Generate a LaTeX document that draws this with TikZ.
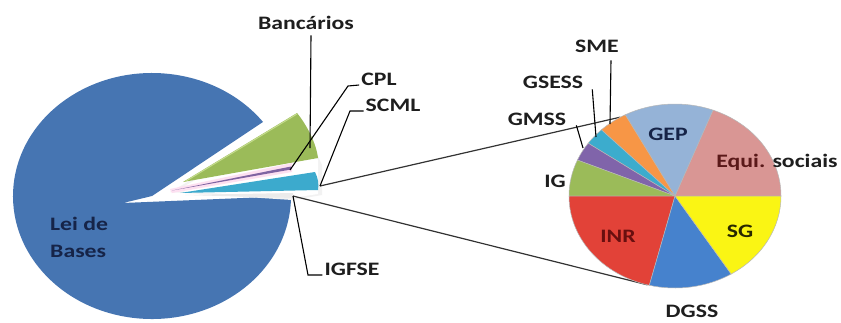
\documentclass[tikz,border=0pt]{standalone}
\usepackage{fontspec}
\setmainfont{Carlito}
\usepackage{graphicx}

% slice colours
\definecolor{bigblue}{RGB}{70,117,178}
\definecolor{bancgreen}{RGB}{155,187,89}
\definecolor{bancedge}{RGB}{196,220,140}
\definecolor{cplpurple}{RGB}{128,100,162}
\definecolor{scmlcyan}{RGB}{60,170,205}
\definecolor{equipink}{RGB}{217,150,148}
\definecolor{gepblue}{RGB}{149,179,215}
\definecolor{smeorange}{RGB}{247,150,70}
\definecolor{gsesscyan}{RGB}{60,172,205}
\definecolor{gmsspurple}{RGB}{128,100,170}
\definecolor{iggreen}{RGB}{155,187,89}
\definecolor{inrred}{RGB}{226,66,56}
\definecolor{dgssblue}{RGB}{70,130,205}
\definecolor{sgyellow}{RGB}{250,245,20}
% text colours
\definecolor{labelink}{RGB}{30,30,30}
\definecolor{navyink}{RGB}{22,36,72}
\definecolor{redink}{RGB}{105,15,15}
\definecolor{maroonink}{RGB}{90,25,25}
\definecolor{olivink}{RGB}{40,40,0}

\newcommand\wtxt[1]{\scalebox{1.25}[1]{#1}}

\begin{document}
\begin{tikzpicture}[x=1pt,y=-1pt,
  lbl/.style={inner sep=0pt, anchor=base, text=labelink,
              font=\bfseries\fontsize{19}{22}\selectfont},
  leader/.style={draw=black, line width=1.1pt},
  link/.style={draw=black!80, line width=1.2pt},
  rslice/.style={draw=white!72!black, line width=0.5pt}]

\useasboundingbox (0,0) rectangle (841,322);
\fill[white] (0,0) rectangle (841,322);

% ---------- main pie ----------
\coordinate (lc) at (152,196);
\fill[bigblue] (lc) -- ({152+139*cos(37)},{196-123*sin(37)})
   arc[start angle=37, end angle=360, x radius=139pt, y radius=123pt]
   -- (123,203) -- cycle;

% exploded slices
\fill[black!5] (170,192) -- (300,118) -- (322,165) -- (322,195) -- (292,200) -- cycle;
\fill[white] (176,191) -- (300,121) -- (318,160) -- (318,194) -- (292,198) -- cycle;
\fill[bancgreen] (183,182) -- (297,113) .. controls (306,124) and (316,142) .. (318,158) -- cycle;
\draw[bancedge, line width=1pt] (186,181) -- (297,114);
\fill[white!88!magenta] (170,189) -- (292,163) -- (292,172) -- (172,193) -- cycle;
\fill[cplpurple] (172,190.5) -- (291,166.5) -- (291,169.5) -- cycle;
\fill[scmlcyan] (180,193) -- (315,172) .. controls (318,178) and (319,184) .. (318,190) -- cycle;
\fill[white!92!black] (185,195) -- (293,193) -- (293,198) -- cycle;

\coordinate (bancTip) at (310,148);
\coordinate (cplTip) at (290,170);
\coordinate (cplBend) at (348,86);
\coordinate (scmlTip) at (320,186);
\coordinate (scmlBend) at (350,111);
\coordinate (igfTip) at (293,196);
\coordinate (igfBend) at (308,275);

% ---------- connectors to the second pie ----------
\coordinate (rc) at (675,196);
\coordinate (rpTop) at ({675+106*cos(121)},{196-92*sin(121)});
\coordinate (rpBot) at ({675+106*cos(255)},{196-92*sin(255)});
\draw[link] (scmlTip) -- (rpTop);
\draw[link] (igfTip) -- (rpBot);

% ---------- second pie ----------
\foreach \a/\b/\c in {0/69/equipink, 69/118/gepblue, 118/134/smeorange,
                      134/145/gsesscyan, 145/157/gmsspurple, 157/180/iggreen,
                      180/256/inrred, 256/302/dgssblue, 302/360/sgyellow}
  \filldraw[rslice, fill=\c] (rc) -- ({675+106*cos(\a)},{196-92*sin(\a)})
     arc[start angle=\a, end angle=\b, x radius=106pt, y radius=92pt] -- cycle;

\coordinate (smeTip) at (610,124);
\coordinate (gsessTip) at (596,137);
\coordinate (gmssTip) at (583,148);

% ---------- labels ----------
\node[lbl] (banc) at (306,29) {\wtxt{Bancários}};
\node[lbl] (cpl) at (379,85) {\wtxt{CPL}};
\node[lbl] (scml) at (393,111) {\wtxt{SCML}};
\node[lbl] (igfse) at (352,275) {\wtxt{IGFSE}};
\node[lbl, anchor=base west, text=navyink] (lei1) at (50,230) {\wtxt{Lei de}};
\node[lbl, anchor=base west, text=navyink] (lei2) at (50,257) {\wtxt{Bases}};

\node[lbl] (sme) at (597,52) {\wtxt{SME}};
\node[lbl] (gsess) at (553,88) {\wtxt{GSESS}};
\node[lbl] (gmss) at (537,125) {\wtxt{GMSS}};
\node[lbl] (ig) at (555,187) {\wtxt{IG}};
\node[lbl, text=navyink] (gep) at (668,140) {\wtxt{GEP}};
\node[lbl] (equi) at (777,167) {\wtxt{{\color{maroonink}Equi.} sociais}};
\node[lbl, text=olivink] (sg) at (740,237) {\wtxt{SG}};
\node[lbl, text=redink] (inr) at (618,242) {\wtxt{INR}};
\node[lbl] (dgss) at (692,317) {\wtxt{DGSS}};

% ---------- leader lines ----------
\draw[leader] ([xshift=5pt,yshift=-6pt]banc.south) -- (bancTip);
\draw[leader] ([xshift=-2pt]cpl.base west) -- (cplBend) -- (cplTip);
\draw[leader] ([xshift=-2pt]scml.base west) -- (scmlBend) -- (scmlTip);
\draw[leader] ([xshift=-2pt]igfse.base west) -- (igfBend) -- (igfTip);
\draw[leader] ([xshift=14pt,yshift=-8pt]sme.south) -- (smeTip);
\draw[leader] ([xshift=9pt,yshift=-1pt]gsess.south east) -- (gsessTip);
\draw[leader] ([xshift=10pt]gmss.south east) -- (gmssTip);

\end{tikzpicture}
\end{document}
